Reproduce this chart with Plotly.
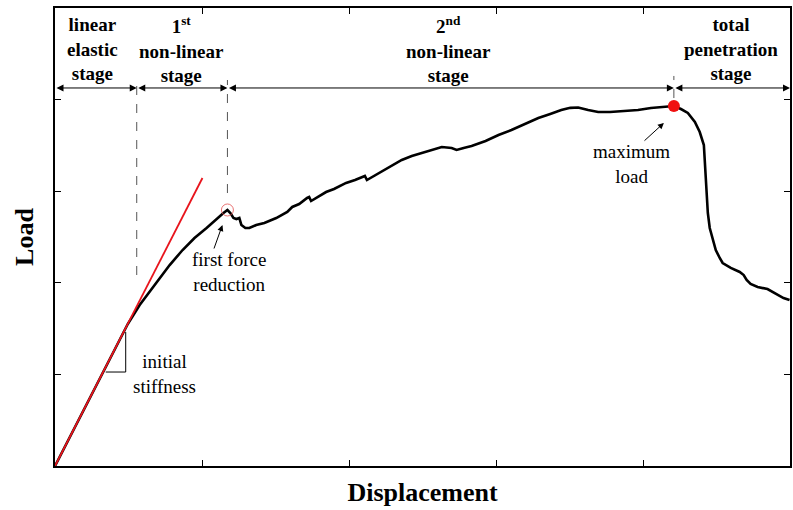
import plotly.graph_objects as go

# Load-displacement record (normalised units)
disp = [0.0, 0.136, 0.271, 0.407, 0.495, 0.576, 0.644, 0.712, 0.780, 0.868, 0.949, 1.031,
        1.098, 1.146, 1.173, 1.193, 1.214, 1.234, 1.254, 1.268, 1.295, 1.322, 1.369, 1.424,
        1.505, 1.580, 1.614, 1.661, 1.715, 1.729, 1.742, 1.797, 1.844, 1.898, 1.980, 2.041,
        2.095, 2.108, 2.122, 2.203, 2.292, 2.359, 2.427, 2.495, 2.563, 2.631, 2.698, 2.732,
        2.780, 2.834, 2.929, 3.017, 3.105, 3.200, 3.288, 3.369, 3.444, 3.505, 3.559, 3.627,
        3.695, 3.776, 3.851, 3.966, 4.054, 4.149, 4.210, 4.258, 4.305, 4.353, 4.386, 4.414,
        4.420, 4.427, 4.434, 4.441, 4.454, 4.475, 4.495, 4.522, 4.542, 4.597, 4.658, 4.685,
        4.705, 4.732, 4.780, 4.847, 4.915, 4.956, 4.997]
load = [0.0, 0.426, 0.852, 1.277, 1.550, 1.758, 1.900, 2.041, 2.194, 2.358, 2.489, 2.598,
        2.697, 2.762, 2.795, 2.762, 2.707, 2.696, 2.707, 2.631, 2.598, 2.598, 2.631, 2.653,
        2.707, 2.773, 2.828, 2.860, 2.926, 2.937, 2.893, 2.948, 2.991, 3.024, 3.090, 3.122,
        3.155, 3.166, 3.122, 3.199, 3.286, 3.341, 3.384, 3.417, 3.450, 3.483, 3.472, 3.450,
        3.472, 3.493, 3.548, 3.614, 3.668, 3.734, 3.799, 3.843, 3.886, 3.910, 3.914, 3.886,
        3.865, 3.865, 3.876, 3.886, 3.908, 3.919, 3.930, 3.897, 3.854, 3.755, 3.646, 3.504,
        3.341, 3.122, 2.904, 2.762, 2.598, 2.467, 2.358, 2.271, 2.216, 2.162, 2.118, 2.085,
        2.031, 1.987, 1.954, 1.932, 1.867, 1.834, 1.812]

# Initial stiffness tangent line
stiff_x = [0.0, 1.003]
stiff_y = [0.0, 3.144]

# Slope triangle drawn under the tangent
tri_x = [0.345, 0.481, 0.481]
tri_y = [1.026, 1.026, 1.463]

# Key points
first_drop = (1.173, 2.795)
max_load = (4.210, 3.930)

# Stage boundaries and labels
stage_edges = [0.0, 0.556, 1.173, 4.210, 5.0]
stage_labels = [
    "linear<br>elastic<br>stage",
    "1<sup>st</sup><br>non-linear<br>stage",
    "2<sup>nd</sup><br>non-linear<br>stage",
    "total<br>penetration<br>stage",
]
stage_centers = [0.258, 0.862, 2.68, 4.60]
stage_arrow_y = 4.127
stage_text_y = 4.55

# Dashed guide lines at stage boundaries: (x, y_bottom, y_top)
guides = [(0.556, 2.085, 4.214), (1.173, 2.98, 4.214), (4.210, 4.017, 4.258)]

SERIF = "Liberation Serif, Times New Roman, serif"

fig = go.Figure()

fig.add_trace(go.Scatter(x=disp, y=load, mode="lines",
                         line=dict(color="black", width=2.6), hoverinfo="skip"))
fig.add_trace(go.Scatter(x=stiff_x, y=stiff_y, mode="lines",
                         line=dict(color="#e8141c", width=1.8), hoverinfo="skip"))
fig.add_trace(go.Scatter(x=tri_x, y=tri_y, mode="lines",
                         line=dict(color="black", width=1), hoverinfo="skip"))
fig.add_trace(go.Scatter(x=[first_drop[0]], y=[first_drop[1]], mode="markers",
                         marker=dict(symbol="circle-open", size=12,
                                     color="rgba(228,80,80,0.8)",
                                     line=dict(color="rgba(228,80,80,0.8)", width=1)),
                         hoverinfo="skip"))
fig.add_trace(go.Scatter(x=[max_load[0]], y=[max_load[1]], mode="markers",
                         marker=dict(symbol="circle", size=12, color="#f01010"),
                         hoverinfo="skip"))

for gx, gy0, gy1 in guides:
    fig.add_shape(type="line", x0=gx, x1=gx, y0=gy0, y1=gy1, xref="x", yref="y",
                  line=dict(color="#555555", width=1, dash="dash"))

annotations = []

# Double-headed arrows spanning each stage
for x0, x1 in zip(stage_edges[:-1], stage_edges[1:]):
    annotations.append(dict(x=x1, y=stage_arrow_y, ax=x0, ay=stage_arrow_y,
                            xref="x", yref="y", axref="x", ayref="y", text="",
                            showarrow=True, arrowside="end+start", arrowhead=2,
                            startarrowhead=2, arrowsize=1.4, startarrowsize=1.4,
                            arrowwidth=1, arrowcolor="black"))

for cx, txt in zip(stage_centers, stage_labels):
    annotations.append(dict(x=cx, y=stage_text_y, xref="x", yref="y", text=f"<b>{txt}</b>",
                            showarrow=False, xanchor="center", yanchor="middle",
                            font=dict(family=SERIF, size=19, color="black")))


def note(cx, cy, txt):
    annotations.append(dict(x=cx, y=cy, xref="x", yref="y", text=txt,
                            showarrow=False, xanchor="center", yanchor="middle",
                            font=dict(family=SERIF, size=19, color="black")))


note(0.746, 1.004, "initial<br>stiffness")
note(1.186, 2.123, "first force<br>reduction")
note(3.92, 3.297, "maximum<br>load")

# Pointer arrows
annotations.append(dict(x=1.139, y=2.631, ax=1.078, ay=2.358, xref="x", yref="y",
                        axref="x", ayref="y", text="", showarrow=True, arrowhead=2,
                        arrowsize=1.2, arrowwidth=1, arrowcolor="black"))
annotations.append(dict(x=4.142, y=3.745, ax=4.0, ay=3.537, xref="x", yref="y",
                        axref="x", ayref="y", text="", showarrow=True, arrowhead=2,
                        arrowsize=1.2, arrowwidth=1, arrowcolor="black"))

axis_common = dict(showline=True, linecolor="black", linewidth=1.5, mirror="ticks",
                   ticks="inside", ticklen=6, tickwidth=1.2, tickcolor="black",
                   showticklabels=False, showgrid=False, zeroline=False, dtick=1)

fig.update_layout(
    width=793, height=510,
    margin=dict(l=55, r=1, t=8, b=44),
    paper_bgcolor="white", plot_bgcolor="white",
    showlegend=False,
    xaxis=dict(range=[0, 5], **axis_common,
               title=dict(text="<b>Displacement</b>", standoff=16,
                          font=dict(family=SERIF, size=26, color="black"))),
    yaxis=dict(range=[0, 5], **axis_common,
               title=dict(text="<b>Load</b>", standoff=12,
                          font=dict(family=SERIF, size=26, color="black"))),
    annotations=annotations,
)

fig.write_html("out.html")
